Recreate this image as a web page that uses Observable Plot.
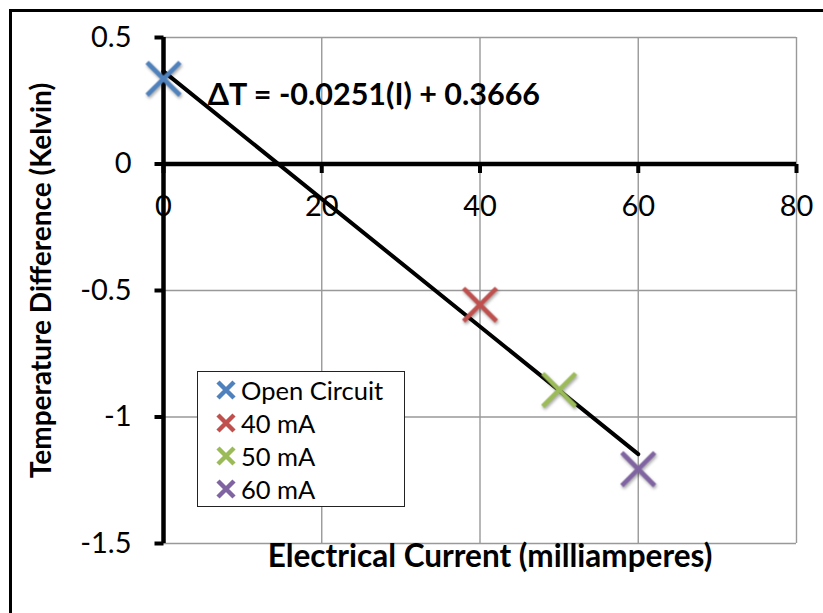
<!DOCTYPE html>
<html>
<head>
<meta charset="utf-8">
<script src="https://cdn.jsdelivr.net/npm/d3@7"></script>
<script src="https://cdn.jsdelivr.net/npm/@observablehq/plot@0.6"></script>
<style>
  html, body { margin: 0; padding: 0; background: #fff; }
  #wrap { position: relative; width: 823px; height: 613px; overflow: hidden; font-family: Lato, "Open Sans", sans-serif; }
  #border { position: absolute; left: 9px; top: 9px; right: -10px; bottom: -10px; border-left: 3px solid #000; border-top: 3px solid #000; pointer-events: none; }
  #chart { position: absolute; left: 0; top: 0; }
  #legend { position: absolute; left: 197px; top: 371px; width: 208px; height: 136px; border: 1.5px solid #222; background: #fff; box-sizing: border-box; }
  .row { position: absolute; left: 0; height: 33px; display: flex; align-items: center; font-size: 25.5px; color: #000; white-space: nowrap; }
  .row svg { margin-left: 18px; margin-right: 5px; }
</style>
</head>
<body>
<div id="wrap">
  <div id="chart"></div>
  <div id="legend"></div>
  <div id="border"></div>
</div>
<script>
// ---- data ----
const series = ["Open Circuit", "40 mA", "50 mA", "60 mA"];
const current = [0, 40, 50, 60];            // mA
const deltaT = [0.337, -0.556, -0.893, -1.206]; // Kelvin
const colors = ["#4F81BD", "#C0504D", "#9BBB59", "#8064A2"];
const xTicks = [0, 20, 40, 60, 80];
const yTicks = [0.5, 0, -0.5, -1, -1.5];
const equation = "\u0394T = -0.0251(I) + 0.3666";

const data = series.map((s, i) => ({series: s, x: current[i], y: deltaT[i]}));

const tickDown = {draw(ctx) { ctx.moveTo(0, 0); ctx.lineTo(0, 9); }};
const tickLeft = {draw(ctx) { ctx.moveTo(-9, 0); ctx.lineTo(0, 0); }};

const plot = Plot.plot({
  width: 823,
  height: 613,
  marginLeft: 163,
  marginRight: 27,
  marginTop: 37,
  marginBottom: 70,
  style: {fontFamily: "Lato, 'Open Sans', sans-serif", background: "transparent", overflow: "visible"},
  x: {domain: [0, 80], axis: null},
  y: {domain: [-1.5, 0.5], axis: null},
  color: {domain: series, range: colors},
  marks: [
    // gridlines
    Plot.ruleX(xTicks.filter(d => d !== 0), {x: d => d, stroke: "#999", strokeWidth: 1.4}),
    Plot.ruleY(yTicks.filter(d => d !== 0), {y: d => d, stroke: "#999", strokeWidth: 1.4}),
    // axes lines
    Plot.ruleY([0], {stroke: "#000", strokeWidth: 4.5}),
    Plot.ruleX([0], {stroke: "#000", strokeWidth: 4.5}),
    // tick marks
    Plot.dot(xTicks, {x: d => d, y: () => 0, symbol: tickDown, r: 5, fill: "none", stroke: "#000", strokeWidth: 4}),
    Plot.dot(yTicks, {x: () => 0, y: d => d, symbol: tickLeft, r: 5, fill: "none", stroke: "#000", strokeWidth: 4}),
    // tick labels
    Plot.text(xTicks, {x: d => d, y: () => 0, text: d => String(d), dy: 43, fontSize: 29, fill: "#000"}),
    Plot.text(yTicks, {x: () => 0, y: d => d, text: d => String(d), dx: -32, textAnchor: "end", fontSize: 29, fill: "#000"}),
    // axis titles
    Plot.text(["Electrical Current (milliamperes)"], {frameAnchor: "bottom", dx: 10, dy: 23, fontSize: 31.5, fontWeight: "bold", fill: "#000"}),
    Plot.text(["Temperature Difference (Kelvin)"], {frameAnchor: "left", textAnchor: "middle", rotate: -90, dx: -121, dy: -10, fontSize: 28, fontWeight: "bold", fill: "#000"}),
    // trendline (least squares)
    Plot.linearRegressionY(data, {x: "x", y: "y", ci: 0, stroke: "#000", strokeWidth: 4}),
    // equation
    Plot.text([equation], {x: () => 5.6, y: () => 0.27, text: d => d, textAnchor: "start", fontSize: 30.5, fontWeight: "bold", fill: "#000"}),
    // data markers
    Plot.dot(data, {x: "x", y: "y", stroke: "series", symbol: "times", r: 15, strokeWidth: 4.5})
  ]
});
document.getElementById("chart").appendChild(plot);

// soft shadow on the data markers (last dot group)
const dotGroups = plot.querySelectorAll('g[aria-label="dot"]');
if (dotGroups.length) dotGroups[dotGroups.length - 1].style.filter = "drop-shadow(1.5px 2px 1.5px rgba(0,0,0,0.35))";

// legend
const legend = document.getElementById("legend");
series.forEach((s, i) => {
  const row = document.createElement("div");
  row.className = "row";
  row.style.top = (1 + i * 33) + "px";
  row.innerHTML = `<svg width="20" height="20" viewBox="-10 -10 20 20"><path d="M-8,-8L8,8M-8,8L8,-8" stroke="${colors[i]}" stroke-width="4.5" fill="none"/></svg><span>${s}</span>`;
  legend.appendChild(row);
});
</script>
</body>
</html>
